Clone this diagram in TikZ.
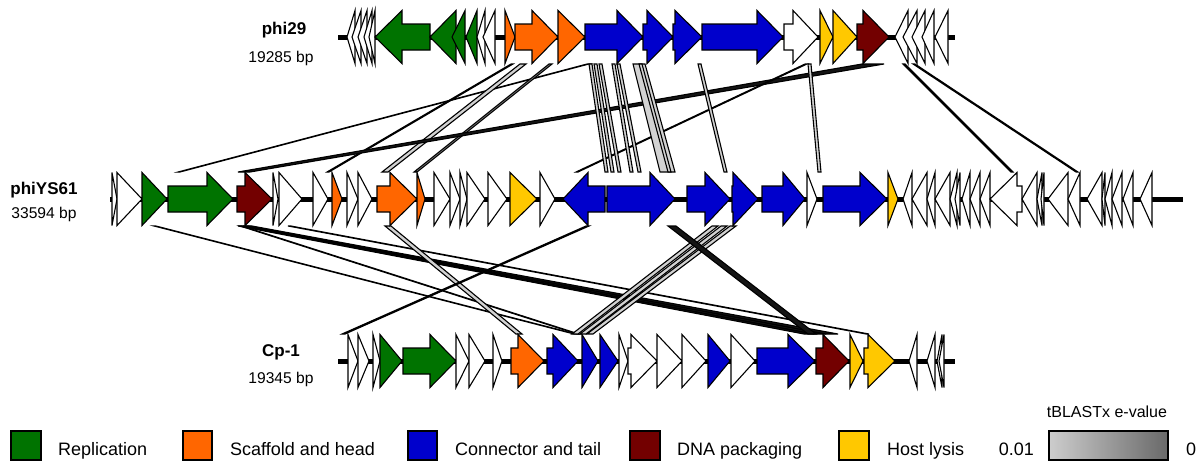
\documentclass[tikz,border=0pt]{standalone}
\usepackage{fontspec}
\setmainfont{Liberation Sans}
\definecolor{gRep}{RGB}{0,115,0}
\definecolor{gHead}{RGB}{255,102,0}
\definecolor{gTail}{RGB}{0,0,204}
\definecolor{gPack}{RGB}{115,0,0}
\definecolor{gLys}{RGB}{255,200,0}
\definecolor{ribLight}{RGB}{210,210,210}
\definecolor{ribMid}{RGB}{150,150,150}
\definecolor{ribDark}{RGB}{20,20,20}
\definecolor{evLow}{RGB}{205,205,205}
\definecolor{evHigh}{RGB}{105,105,105}

% gene drawn as an arrow: colour, start, head base, tip
\newcommand\gArrow[4]{\filldraw[gene,fill=#1] (#2,\yc-13) -- (#3,\yc-13) -- (#3,\yc-26.5) -- (#4,\yc) -- (#3,\yc+26.5) -- (#3,\yc+13) -- (#2,\yc+13) -- cycle;}
% short gene drawn as a triangle: colour, base, tip
\newcommand\gTri[3]{\filldraw[gene,fill=#1] (#2,\yc-26.5) -- (#3,\yc) -- (#2,\yc+26.5) -- cycle;}
% homology ribbon between two tracks: fill, upper x1, upper x2, lower x1, lower x2
\newcommand\ribbon[5]{\filldraw[rib,fill=#1] (#2,\ya) -- (#3,\ya) -- (#5,\yb) -- (#4,\yb) -- cycle;}

\begin{document}
\begin{tikzpicture}[x=0.5pt,y=-0.5pt,
  gene/.style={draw=black,line width=0.55pt,line join=miter},
  rib/.style={draw=black,line width=0.55pt},
  backbone/.style={line width=2.5pt},
  genome/.style={font=\fontsize{8.5}{10}\selectfont\bfseries},
  size/.style={font=\fontsize{7.8}{9}\selectfont},
  legtext/.style={font=\fontsize{9}{11}\selectfont,anchor=base west},
  legbox/.style={draw=black,line width=0.6pt}]
\useasboundingbox (0,0) rectangle (1200,462);

% ---------- homology ribbons phi29 / phiYS61 ----------
\def\ya{64}\def\yb{172}
\ribbon{ribMid}{587}{589}{178}{180}
\ribbon{ribMid}{511}{513}{327}{329}
\ribbon{ribLight}{520}{526}{382}{388}
\ribbon{ribMid}{549}{552}{414}{417}
\ribbon{ribDark}{862}{884}{238}{250}
\ribbon{ribMid}{805}{807}{576}{578}
\ribbon{ribLight}{808}{811}{818}{821}
\ribbon{ribLight}{903}{905}{1011}{1013}
\ribbon{ribLight}{913}{915}{1076}{1078}
\ribbon{ribLight}{589}{592}{605}{608}
\ribbon{ribLight}{594}{597}{611}{614}
\ribbon{ribLight}{599}{602}{618}{621}
\ribbon{ribLight}{612}{615}{630}{633}
\ribbon{ribLight}{617}{620}{638}{641}
\ribbon{ribLight}{633}{645}{660}{675}
\ribbon{ribLight}{639}{642}{668}{671}
\ribbon{ribLight}{698}{701}{724}{727}

% ---------- homology ribbons phiYS61 / Cp-1 ----------
\def\ya{226}\def\yb{334}
\ribbon{ribMid}{154}{156}{574}{576}
\ribbon{ribMid}{240}{242}{577}{579}
\ribbon{ribDark}{238}{244}{804}{814}
\ribbon{ribDark}{243}{249}{814}{826}
\ribbon{ribDark}{246}{252}{826}{838}
\ribbon{ribLight}{288}{291}{866}{869}
\ribbon{ribLight}{385}{391}{516}{522}
\ribbon{ribMid}{586}{589}{342}{345}
\ribbon{ribLight}{712}{718}{572}{578}
\ribbon{ribLight}{721}{727}{580}{586}
\ribbon{ribLight}{730}{736}{587}{593}
\ribbon{ribDark}{668}{676}{808}{816}

% ---------- phi29 ----------
\def\yc{37}
\draw[backbone] (338,\yc) -- (955,\yc);
\gTri{white}{355}{347}\gTri{white}{361}{352}\gTri{white}{367}{358}
\gTri{white}{372}{364}\gTri{white}{375}{369}
\gArrow{gRep}{430}{402}{375}
\gTri{gRep}{456}{430}\gTri{gRep}{465}{452}\gTri{gRep}{477}{466}
\gTri{white}{485}{477}\gTri{white}{495}{483}
\gTri{gHead}{505}{515}
\gArrow{gHead}{515}{532}{558}
\gTri{gHead}{558}{585}
\gArrow{gTail}{585}{617}{643}
\gArrow{gTail}{643}{647}{673}
\gArrow{gTail}{673}{675}{702}
\gArrow{gTail}{702}{757}{783}
\gArrow{white}{784}{793}{818}
\gTri{gLys}{820}{833}\gTri{gLys}{833}{857}
\gArrow{gPack}{857}{863}{889}
\gTri{white}{908}{895}\gTri{white}{917}{903}\gTri{white}{925}{912}
\gTri{white}{934}{922}\gTri{white}{948}{935}
\node[genome] (n29) at (284,30) {phi29};
\node[size] (s29) at (281,58) {19285 bp};

% ---------- phiYS61 ----------
\def\yc{199}
\draw[backbone] (110,\yc) -- (1183,\yc);
\gTri{white}{112}{117}\gTri{white}{117}{142}
\gTri{gRep}{142}{167}
\gArrow{gRep}{168}{207}{233}
\gArrow{gPack}{237}{245}{272}
\gTri{white}{273}{278}\gTri{white}{279}{302}
\gTri{white}{313}{328}
\gTri{gHead}{332}{342}
\gTri{white}{347}{358}\gTri{white}{358}{372}
\gArrow{gHead}{377}{390}{417}
\gTri{gHead}{417}{425}
\gTri{white}{434}{450}\gTri{white}{450}{460}\gTri{white}{460}{467}\gTri{white}{467}{485}
\gTri{white}{488}{507}
\gTri{gLys}{510}{537}
\gTri{white}{540}{555}
\gArrow{gTail}{605}{588}{563}
\gArrow{gTail}{607}{650}{675}
\gArrow{gTail}{687}{705}{730}
\gArrow{gTail}{732}{733}{758}
\gArrow{gTail}{762}{783}{805}
\gTri{white}{807}{817}
\gArrow{gTail}{823}{860}{887}
\gTri{gLys}{888}{898}
\gTri{white}{912}{903}\gTri{white}{927}{912}\gTri{white}{935}{927}
\gTri{white}{950}{935}\gTri{white}{957}{950}\gTri{white}{960}{955}
\gTri{white}{970}{962}\gTri{white}{980}{970}\gTri{white}{990}{980}
\gArrow{white}{1022}{1017}{990}
\gTri{white}{1037}{1022}\gTri{white}{1042}{1037}\gTri{white}{1044}{1041}
\gTri{white}{1068}{1048}\gTri{white}{1080}{1068}
\gTri{white}{1102}{1087}\gTri{white}{1105}{1102}\gTri{white}{1112}{1105}
\gTri{white}{1122}{1112}\gTri{white}{1133}{1123}\gTri{white}{1152}{1140}
\node[genome] (nYS) at (44,190) {phiYS61};
\node[size] (sYS) at (44,214) {33594 bp};

% ---------- Cp-1 ----------
\def\yc{361}
\draw[backbone] (338,\yc) -- (955,\yc);
\gTri{white}{348}{358}\gTri{white}{358}{369}\gTri{white}{373}{380}
\gTri{gRep}{380}{402}
\gArrow{gRep}{403}{430}{456}
\gTri{white}{456}{469}\gTri{white}{469}{485}
\gTri{white}{493}{502}
\gArrow{gHead}{511}{518}{544}
\gArrow{gTail}{547}{553}{578}
\gTri{gTail}{582}{598}
\gTri{gTail}{600}{618}
\gTri{white}{619}{628}
\gArrow{white}{628}{631}{657}
\gTri{white}{657}{682}\gTri{white}{682}{706}
\gTri{gTail}{708}{730}
\gTri{white}{731}{755}
\gArrow{gTail}{757}{788}{815}
\gArrow{gPack}{816}{823}{849}
\gTri{gLys}{850}{863}
\gArrow{gLys}{864}{868}{895}
\gTri{white}{917}{909}\gTri{white}{935}{927}\gTri{white}{942}{937}\gTri{white}{944}{939}
\node[genome] (nCp) at (281,352) {Cp-1};
\node[size] (sCp) at (281,379) {19345 bp};

% ---------- legend ----------
\filldraw[legbox,fill=gRep] (11,431) rectangle (41,460);
\node[legtext] (l1) at (51,455) {Replication};
\filldraw[legbox,fill=gHead] (183,431) rectangle (212,460);
\node[legtext] (l2) at (223,455) {Scaffold and head};
\filldraw[legbox,fill=gTail] (408,431) rectangle (437,460);
\node[legtext] (l3) at (448,455) {Connector and tail};
\filldraw[legbox,fill=gPack] (630,431) rectangle (660,460);
\node[legtext] (l4) at (670,455) {DNA packaging};
\filldraw[legbox,fill=gLys] (839,431) rectangle (869,460);
\node[legtext] (l5) at (880,455) {Host lysis};
\shade[left color=evLow,right color=evHigh] (1049,431) rectangle (1168,460);
\draw[legbox] (1049,431) rectangle (1168,460);
\node[font=\fontsize{9}{11}\selectfont,anchor=base east] (e1) at (1041,455) {0.01};
\node[legtext] (e2) at (1179,455) {0};
\node[font=\fontsize{8}{10}\selectfont] (et) at (1107,412) {tBLASTx e-value};
\end{tikzpicture}
\end{document}
